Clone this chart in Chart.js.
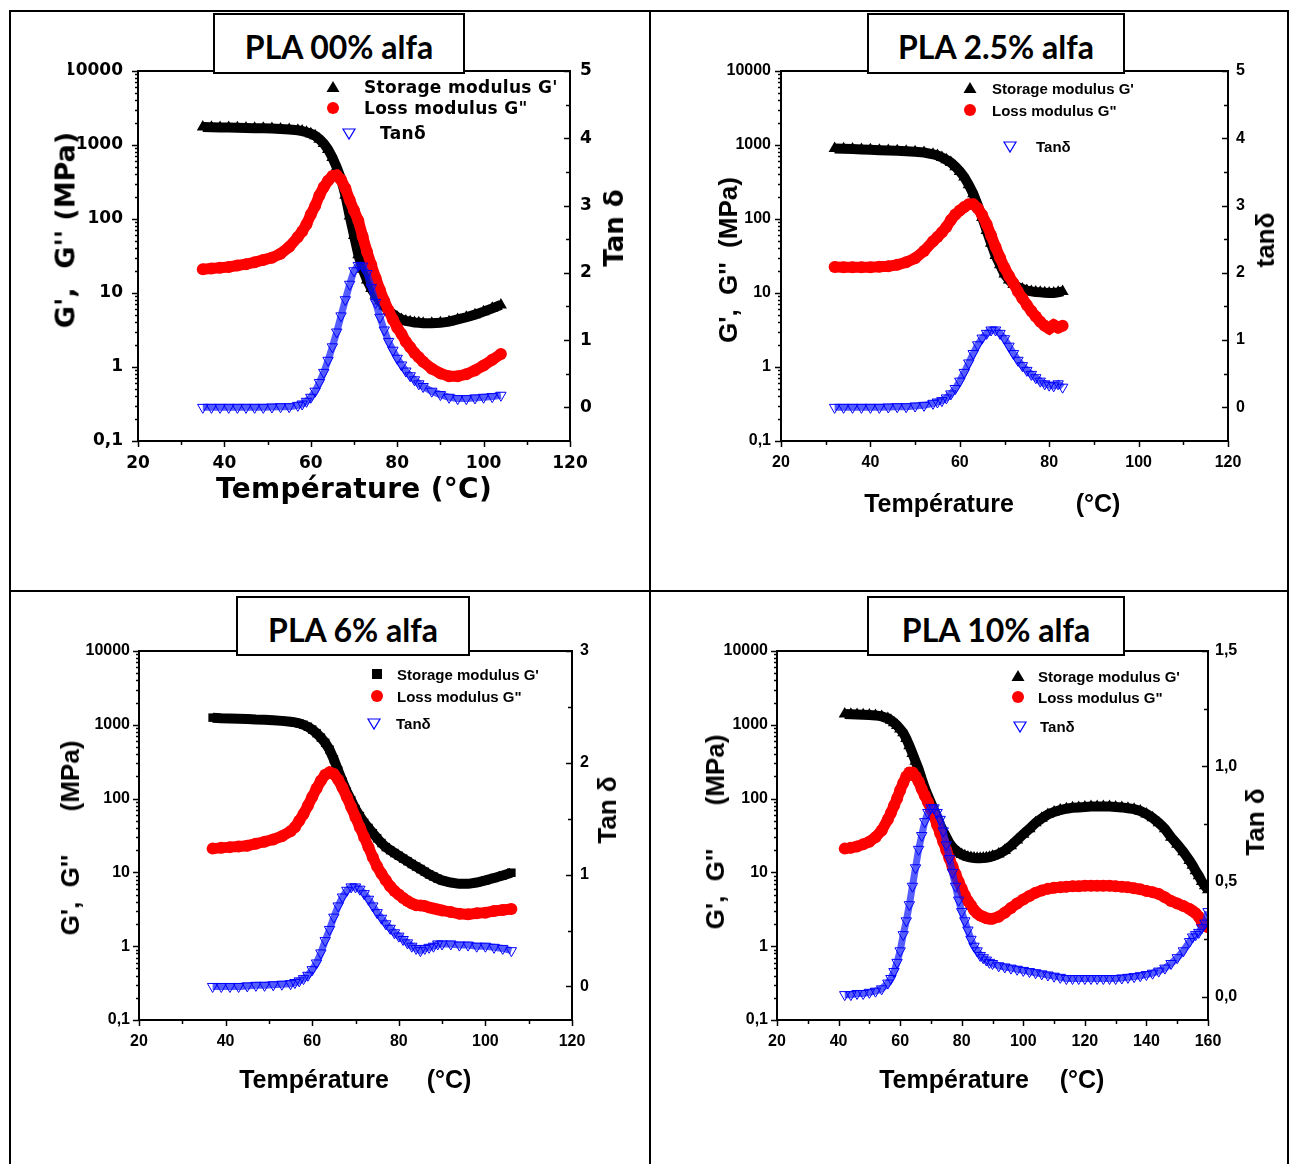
<!DOCTYPE html>
<html>
<head>
<meta charset="utf-8">
<title>DMA – PLA / alfa</title>
<script src="https://cdn.jsdelivr.net/npm/chart.js@4.4.1/dist/chart.umd.min.js"></script>
<style>
  html, body { margin: 0; padding: 0; background: #fff; }
  body { position: relative; width: 1289px; height: 1164px; overflow: hidden; }
  canvas { position: absolute; }
  .line { position: absolute; background: #000; }
  .t { position: absolute; white-space: pre; line-height: 1; color: #000; font-weight: bold; }
  .box { position: absolute; border: 2px solid #000; background: #fff; box-sizing: border-box;
         display: flex; align-items: center; justify-content: center;
         font-family: Lato, 'Open Sans', sans-serif; font-weight: bold; font-size: 32px; padding-top: 6px; }
  .mk { position: absolute; }
</style>
</head>
<body>
<div class="line" style="left:9px;top:10px;width:1280px;height:2px"></div>
<div class="line" style="left:9px;top:10px;width:2px;height:1154px"></div>
<div class="line" style="left:1287px;top:10px;width:2px;height:1154px"></div>
<div class="line" style="left:649px;top:10px;width:2px;height:1154px"></div>
<div class="line" style="left:9px;top:590px;width:1280px;height:2px"></div>

<canvas id="c1"></canvas>
<canvas id="c2"></canvas>
<canvas id="c3"></canvas>
<canvas id="c4"></canvas>

<script>
// ---- Data: temperature (°C), storage modulus G' (MPa), loss modulus G'' (MPa), tan delta ----

// PLA 00% alfa
const temps1 = [35,37,39,41,43,45,47,49,51,53,55,57,58,59,60,61,62,63,64,65,66,67,68,69,70,71,72,73,74,75,76,77,78,79,80,81,82,83,84,85,86,88,90,92,94,96,98,100,102,104];
const storage1 = [1750,1740,1730,1720,1710,1700,1690,1680,1670,1650,1620,1580,1540,1490,1420,1330,1200,1050,870,680,500,350,210,110,60,33,21,15,11.5,9.3,7.8,6.6,5.8,5.2,4.7,4.4,4.2,4.1,4.0,3.95,3.9,3.9,3.95,4.1,4.4,4.7,5.1,5.6,6.2,6.9];
const loss1 = [21,21.5,22,22.5,23.5,24.5,26,28,30,34,42,57,68,85,115,150,210,270,330,380,390,340,260,180,130,95,58,36,24,16,11,7.8,5.8,4.4,3.4,2.8,2.2,1.85,1.55,1.35,1.18,0.95,0.82,0.75,0.75,0.8,0.9,1.05,1.25,1.5];
const tan1 = [0,0,0,0,0,0,0,0,0.005,0.01,0.01,0.03,0.05,0.09,0.15,0.24,0.37,0.52,0.70,0.90,1.12,1.36,1.60,1.83,2.03,2.11,2.10,1.99,1.78,1.56,1.34,1.15,0.98,0.85,0.73,0.63,0.54,0.47,0.41,0.35,0.31,0.24,0.19,0.15,0.13,0.13,0.14,0.15,0.16,0.18];

// PLA 2.5% alfa
const temps2 = [32,34,36,38,40,42,44,46,48,50,52,54,55,56,57,58,59,60,61,62,63,64,65,66,67,68,69,70,71,72,73,74,75,76,77,78,79,80,81,82,83];
const storage2 = [900,890,880,870,860,850,845,835,825,810,790,750,720,680,630,580,510,440,370,290,220,155,105,70,47,32,24,18,15,13,12,11.3,10.8,10.5,10.3,10.2,10.1,10,10,10.2,10.5];
const loss2 = [22.5,22.3,22.2,22.2,22.3,22.6,23,24,26,29.5,37,50,57,66,78,97,115,130,145,158,158,140,113,85,60,42,30,22,17,13.5,10.5,8.5,6.9,5.7,4.8,4.1,3.6,3.3,3.7,3.4,3.6];
const tan2 = [0,0,0,0,0,0,0.005,0.01,0.01,0.02,0.03,0.06,0.08,0.1,0.14,0.2,0.28,0.39,0.52,0.66,0.8,0.93,1.03,1.1,1.15,1.15,1.1,1.02,0.91,0.8,0.7,0.62,0.55,0.49,0.44,0.39,0.35,0.33,0.32,0.35,0.3];

// PLA 6% alfa
const temps3 = [37,39,41,43,45,47,49,51,53,55,56,57,58,59,60,61,62,63,64,65,66,67,68,69,70,71,72,73,74,75,76,77,78,79,80,81,82,83,84,85,86,87,88,89,90,92,94,96,98,100,102,104,106];
const storage3 = [1250,1230,1220,1210,1200,1180,1170,1150,1130,1100,1080,1050,1000,940,860,770,670,570,460,340,240,170,124,95,72,58,47,40,34,29,25,22,20,18.3,16.8,15.4,14.2,13,12,11.1,10.2,9.4,8.8,8.2,7.8,7.3,7.0,7.0,7.3,7.8,8.4,9.1,9.9];
const loss3 = [21,21.5,22,22.5,23,24.5,26,28,31,36,41,50,62,80,105,137,175,210,228,215,180,140,105,77,56,41,30,22,16,12,9.6,7.8,6.5,5.6,5.0,4.5,4.1,3.8,3.6,3.55,3.5,3.35,3.25,3.15,3.05,2.9,2.75,2.7,2.8,2.85,3.0,3.1,3.2];
const tan3 = [0,0,0,0,0.005,0.01,0.01,0.015,0.02,0.025,0.035,0.05,0.07,0.1,0.15,0.21,0.3,0.41,0.51,0.62,0.72,0.8,0.86,0.89,0.89,0.87,0.83,0.78,0.72,0.66,0.61,0.56,0.52,0.48,0.45,0.42,0.39,0.36,0.34,0.32,0.34,0.35,0.36,0.38,0.38,0.38,0.37,0.37,0.36,0.36,0.35,0.34,0.32];

// PLA 10% alfa
const temps4 = [42,44,46,48,50,52,54,56,57,58,59,60,61,62,63,64,65,66,67,68,69,70,71,72,73,74,75,76,77,78,79,80,81,82,83,84,85,86,87,88,89,90,92,94,96,98,100,102,104,106,108,110,112,114,116,118,120,122,124,126,128,130,132,134,136,138,140,142,144,146,148,150,152,154,155,156,157,158,159,160];
const storage4 = [1400,1390,1380,1370,1360,1340,1300,1220,1150,1070,980,880,780,650,520,410,320,250,185,140,110,88,70,56,44,36,30,25,22,20,18.5,17.5,16.8,16.2,15.9,15.7,15.6,15.6,15.7,15.8,16.1,16.6,17.8,19.8,23,27.5,33,39,47,54,61,66,70,73,75,76,77,78,78,78,78,77,76,74,72,68,62,55,47,39,30,24,19,14.5,12.5,10.5,9,7.5,6.6,5.8];
const loss4 = [21,21.5,22.5,24,26,30,37,52,64,80,100,130,163,200,225,225,200,170,135,110,90,72,58,44,34,26,20,15.5,12,9.5,7.5,6,4.9,4.1,3.6,3.1,2.8,2.6,2.5,2.4,2.35,2.35,2.5,2.85,3.3,3.8,4.3,4.8,5.3,5.7,6.0,6.2,6.3,6.4,6.5,6.5,6.6,6.6,6.6,6.6,6.6,6.5,6.4,6.3,6.1,5.9,5.6,5.4,5.1,4.6,4.1,3.8,3.5,3.2,3.0,2.8,2.5,2.1,1.9,1.8];
const tan4 = [0.01,0.01,0.015,0.015,0.02,0.025,0.035,0.06,0.08,0.11,0.15,0.2,0.27,0.33,0.4,0.48,0.56,0.64,0.7,0.76,0.8,0.82,0.82,0.8,0.77,0.72,0.66,0.6,0.54,0.48,0.42,0.37,0.33,0.29,0.25,0.22,0.2,0.18,0.17,0.16,0.15,0.145,0.135,0.13,0.125,0.12,0.115,0.11,0.105,0.1,0.095,0.09,0.085,0.08,0.08,0.08,0.08,0.08,0.08,0.08,0.08,0.08,0.082,0.085,0.088,0.092,0.097,0.103,0.112,0.125,0.145,0.17,0.2,0.24,0.26,0.27,0.28,0.3,0.32,0.37];

// ---- Labels and ticks ----
const seriesNames = ["Storage modulus G'", 'Loss modulus G"', 'Tanδ'];
const panelTitles = ['PLA 00% alfa', 'PLA 2.5% alfa', 'PLA 6% alfa', 'PLA 10% alfa'];
const xTitle = 'Température';
const xUnit = '(°C)';
const modulusTicks = [0.1, 1, 10, 100, 1000, 10000];
const modulusTickLabels = ['0,1', '1', '10', '100', '1000', '10000'];
const tempTicks120 = [20, 40, 60, 80, 100, 120];
const tempTicks160 = [20, 40, 60, 80, 100, 120, 140, 160];
const tanTicks5 = [0, 1, 2, 3, 4, 5];
const tanTickLabels5 = ['0', '1', '2', '3', '4', '5'];
const tanTicks3 = [0, 1, 2, 3];
const tanTickLabels3 = ['0', '1', '2', '3'];
const tanTicks15 = [0, 0.5, 1, 1.5];
const tanTickLabels15 = ['0,0', '0,5', '1,0', '1,5'];

const WIDE = "'DejaVu Sans', Verdana, sans-serif";
const ARIAL = "'Liberation Sans', Arial, Helvetica, sans-serif";

const panels = [
  { id: 'c1', title: panelTitles[0], temps: temps1, gp: storage1, gpp: loss1, tan: tan1, gpStyle: 'triangle',
    cell: {x: 0, y: 0, w: 650, h: 591}, plot: {l: 138, t: 71, r: 570, b: 441},
    xMax: 120, xTicks: tempTicks120, tanMin: -0.5, tanMax: 5, tanTicks: tanTicks5, tanLabels: tanTickLabels5,
    font: WIDE, tickSize: 17, yPad: 15, y2Pad: 10, xPad: 12,
    box: {l: 213, t: 13, w: 252, h: 61},
    xTitleFull: xTitle + ' ' + xUnit, xTitlePos: [354, 489], xTitleSize: 28,
    yTitle: "G',  G'' (MPa)", yTitlePos: [65, 230], yTitleSize: 27,
    y2Title: 'Tan δ', y2TitlePos: [614, 228], y2TitleSize: 26,
    legend: [[333, 87, 364], [333, 108, 364], [349, 133, 380]], legendSize: 17 },
  { id: 'c2', title: panelTitles[1], temps: temps2, gp: storage2, gpp: loss2, tan: tan2, gpStyle: 'triangle',
    cell: {x: 650, y: 0, w: 639, h: 591}, plot: {l: 781, t: 71, r: 1228, b: 441},
    xMax: 120, xTicks: tempTicks120, tanMin: -0.5, tanMax: 5, tanTicks: tanTicks5, tanLabels: tanTickLabels5,
    font: ARIAL, tickSize: 16, yPad: 10, y2Pad: 8, xPad: 12,
    box: {l: 867, t: 13, w: 258, h: 61},
    xTitlePos: [939, 503], xUnitPos: [1098, 503], xTitleSize: 25,
    yTitle: "G',  G''  (MPa)", yTitlePos: [728, 260], yTitleSize: 26,
    y2Title: 'tanδ', y2TitlePos: [1265, 240], y2TitleSize: 26,
    legend: [[970, 88, 992], [970, 110, 992], [1010, 146, 1036]], legendSize: 15 },
  { id: 'c3', title: panelTitles[2], temps: temps3, gp: storage3, gpp: loss3, tan: tan3, gpStyle: 'rect',
    cell: {x: 0, y: 591, w: 650, h: 573}, plot: {l: 139, t: 651, r: 572, b: 1020},
    xMax: 120, xTicks: tempTicks120, tanMin: -0.3, tanMax: 3, tanTicks: tanTicks3, tanLabels: tanTickLabels3,
    font: ARIAL, tickSize: 16, yPad: 9, y2Pad: 8, xPad: 12,
    box: {l: 236, t: 596, w: 234, h: 60},
    xTitlePos: [314, 1079], xUnitPos: [449, 1079], xTitleSize: 25,
    yTitle: "G',  G''      (MPa)", yTitlePos: [70, 838], yTitleSize: 26,
    y2Title: 'Tan δ', y2TitlePos: [607, 810], y2TitleSize: 26,
    legend: [[377, 674, 397], [377, 696, 397], [374, 723, 396]], legendSize: 15 },
  { id: 'c4', title: panelTitles[3], temps: temps4, gp: storage4, gpp: loss4, tan: tan4, gpStyle: 'triangle',
    cell: {x: 650, y: 591, w: 639, h: 573}, plot: {l: 777, t: 651, r: 1208, b: 1020},
    xMax: 160, xTicks: tempTicks160, tanMin: -0.1, tanMax: 1.5, tanTicks: tanTicks15, tanLabels: tanTickLabels15,
    font: ARIAL, tickSize: 16, yPad: 9, y2Pad: 7, xPad: 12,
    box: {l: 867, t: 596, w: 258, h: 60},
    xTitlePos: [954, 1079], xUnitPos: [1082, 1079], xTitleSize: 25,
    yTitle: "G',  G''      (MPa)", yTitlePos: [715, 832], yTitleSize: 26,
    y2Title: 'Tan δ', y2TitlePos: [1255, 822], y2TitleSize: 26,
    legend: [[1018, 676, 1038], [1018, 697, 1038], [1020, 726, 1040]], legendSize: 15 }
];

const pts = (xs, ys) => xs.map((x, i) => ({x: x, y: ys[i]}));

// Closed plot frame plus outward/inward tick marks, placed through the chart's scales
const frameTicks = {
  id: 'frameTicks',
  afterDraw(chart, args, o) {
    const {ctx, chartArea: a, scales} = chart;
    const seg = (x1, y1, x2, y2) => { ctx.beginPath(); ctx.moveTo(x1, y1); ctx.lineTo(x2, y2); ctx.stroke(); };
    ctx.save();
    ctx.strokeStyle = '#000';
    ctx.lineWidth = 1.5;
    // x axis: majors every 20, minors half way
    const xs = o.xTicks;
    xs.forEach((v, i) => {
      const x = Math.round(scales.x.getPixelForValue(v)) + 0.5;
      seg(x, a.bottom, x, a.bottom + 6);
      if (i < xs.length - 1) {
        const xm = Math.round(scales.x.getPixelForValue((v + xs[i + 1]) / 2)) + 0.5;
        seg(xm, a.bottom, xm, a.bottom + 4);
      }
    });
    // left log axis: decades and 2..9 minors, pointing out
    o.logTicks.forEach((d, i) => {
      const y = Math.round(scales.y.getPixelForValue(d)) + 0.5;
      seg(a.left - 6, y, a.left, y);
      if (i < o.logTicks.length - 1) {
        for (let k = 2; k <= 9; k++) {
          const ym = Math.round(scales.y.getPixelForValue(d * k)) + 0.5;
          seg(a.left - 3, ym, a.left, ym);
        }
      }
    });
    // right tan axis: ticks pointing into the plot
    const ts = o.tanTicks;
    ts.forEach((v, i) => {
      const y = Math.round(scales.y2.getPixelForValue(v)) + 0.5;
      seg(a.right - 6, y, a.right, y);
      if (i < ts.length - 1) {
        const ym = Math.round(scales.y2.getPixelForValue((v + ts[i + 1]) / 2)) + 0.5;
        seg(a.right - 4, ym, a.right, ym);
      }
    });
    ctx.lineWidth = 2;
    ctx.strokeRect(a.left, a.top, a.right - a.left, a.bottom - a.top);
    ctx.restore();
  }
};

function makeChart(p) {
  const cv = document.getElementById(p.id);
  cv.width = p.cell.w; cv.height = p.cell.h;
  cv.style.left = p.cell.x + 'px'; cv.style.top = p.cell.y + 'px';
  cv.style.width = p.cell.w + 'px'; cv.style.height = p.cell.h + 'px';
  const AXL = 70, AXR = 50, AXB = 40;
  const padding = {
    left: p.plot.l - p.cell.x - AXL,
    right: p.cell.x + p.cell.w - p.plot.r - AXR,
    top: p.plot.t - p.cell.y,
    bottom: p.cell.y + p.cell.h - p.plot.b - AXB
  };
  const font = {family: p.font, size: p.tickSize, weight: 'bold'};
  const hidden = {display: false, drawTicks: false};
  new Chart(cv, {
    type: 'scatter',
    data: {
      datasets: [
        { label: seriesNames[2], data: pts(p.temps, p.tan), yAxisID: 'y2',
          showLine: true, borderColor: 'rgba(20,30,255,0.72)', borderWidth: 7,
          pointStyle: 'triangle', pointRotation: 180, pointRadius: 6,
          pointBackgroundColor: 'rgba(255,255,255,0)', pointBorderColor: '#0000ff', pointBorderWidth: 1 },
        { label: seriesNames[1], data: pts(p.temps, p.gpp), yAxisID: 'y',
          showLine: true, borderColor: '#ff0000', borderWidth: 11,
          pointStyle: 'circle', pointRadius: 6,
          pointBackgroundColor: '#ff0000', pointBorderColor: '#ff0000', pointBorderWidth: 0 },
        { label: seriesNames[0], data: pts(p.temps, p.gp), yAxisID: 'y',
          showLine: true, borderColor: '#000', borderWidth: 10,
          pointStyle: p.gpStyle, pointRadius: p.gpStyle === 'rect' ? 6 : 7,
          pointBackgroundColor: '#000', pointBorderColor: '#000', pointBorderWidth: 0 }
      ]
    },
    options: {
      responsive: false, animation: false, events: [],
      layout: {padding: padding},
      plugins: {legend: {display: false}, tooltip: {enabled: false},
                frameTicks: {xTicks: p.xTicks, logTicks: modulusTicks, tanTicks: p.tanTicks}},
      scales: {
        x: { type: 'linear', position: 'bottom', min: 20, max: p.xMax,
             afterBuildTicks: s => { s.ticks = p.xTicks.map(v => ({value: v})); },
             afterFit: s => { s.height = AXB; },
             ticks: {font: font, color: '#000', padding: p.xPad, autoSkip: false, maxRotation: 0,
                     callback: v => String(v)},
             grid: hidden, border: {display: false} },
        y: { type: 'logarithmic', position: 'left', min: 0.1, max: 10000,
             afterBuildTicks: s => { s.ticks = modulusTicks.map(v => ({value: v})); },
             afterFit: s => { s.width = AXL; },
             ticks: {font: font, color: '#000', padding: p.yPad, autoSkip: false,
                     callback: (v, i) => modulusTickLabels[i]},
             grid: hidden, border: {display: false} },
        y2: { type: 'linear', position: 'right', min: p.tanMin, max: p.tanMax,
              afterBuildTicks: s => { s.ticks = p.tanTicks.map(v => ({value: v})); },
              afterFit: s => { s.width = AXR; },
              ticks: {font: font, color: '#000', padding: p.y2Pad, autoSkip: false,
                      callback: (v, i) => p.tanLabels[i]},
              grid: hidden, border: {display: false} }
      }
    },
    plugins: [frameTicks]
  });
}

function addText(txt, x, y, family, size, opts) {
  const d = document.createElement('div');
  d.className = 't';
  d.textContent = txt;
  d.style.left = x + 'px';
  d.style.top = y + 'px';
  d.style.fontFamily = family;
  d.style.fontSize = size + 'px';
  if (opts && opts.spacing) d.style.letterSpacing = opts.spacing + 'px';
  let tf = opts && opts.left ? 'translate(0,-50%)' : 'translate(-50%,-50%)';
  if (opts && opts.rotate) tf += ' rotate(-90deg)';
  d.style.transform = tf;
  document.body.appendChild(d);
}

function addMarker(kind, x, y) {
  const ns = 'http://www.w3.org/2000/svg';
  const s = document.createElementNS(ns, 'svg');
  s.setAttribute('width', 16); s.setAttribute('height', 16);
  s.setAttribute('class', 'mk');
  s.style.left = (x - 8) + 'px'; s.style.top = (y - 8) + 'px';
  let el;
  if (kind === 'circle') {
    el = document.createElementNS(ns, 'circle');
    el.setAttribute('cx', 8); el.setAttribute('cy', 8); el.setAttribute('r', 6);
    el.setAttribute('fill', '#ff0000');
  } else if (kind === 'rect') {
    el = document.createElementNS(ns, 'rect');
    el.setAttribute('x', 3); el.setAttribute('y', 3); el.setAttribute('width', 10); el.setAttribute('height', 10);
    el.setAttribute('fill', '#000');
  } else if (kind === 'triangle') {
    el = document.createElementNS(ns, 'polygon');
    el.setAttribute('points', '8,2 14.5,13 1.5,13');
    el.setAttribute('fill', '#000');
  } else {
    el = document.createElementNS(ns, 'polygon');
    el.setAttribute('points', '2,4 14,4 8,14');
    el.setAttribute('fill', 'none');
    el.setAttribute('stroke', '#0000ff');
    el.setAttribute('stroke-width', '1.2');
  }
  s.appendChild(el);
  document.body.appendChild(s);
}

panels.forEach(p => {
  makeChart(p);
  // title box
  const b = document.createElement('div');
  b.className = 'box';
  b.textContent = p.title;
  b.style.left = p.box.l + 'px'; b.style.top = p.box.t + 'px';
  b.style.width = p.box.w + 'px'; b.style.height = p.box.h + 'px';
  document.body.appendChild(b);
  // axis titles
  if (p.xTitleFull) {
    addText(p.xTitleFull, p.xTitlePos[0], p.xTitlePos[1], p.font, p.xTitleSize, {spacing: 0.3});
  } else {
    addText(xTitle, p.xTitlePos[0], p.xTitlePos[1], p.font, p.xTitleSize);
    addText(xUnit, p.xUnitPos[0], p.xUnitPos[1], p.font, p.xTitleSize);
  }
  addText(p.yTitle, p.yTitlePos[0], p.yTitlePos[1], p.font, p.yTitleSize, {rotate: true});
  addText(p.y2Title, p.y2TitlePos[0], p.y2TitlePos[1], p.font, p.y2TitleSize, {rotate: true});
  // legend
  const kinds = [p.gpStyle, 'circle', 'down'];
  p.legend.forEach((L, i) => {
    addMarker(kinds[i], L[0], L[1]);
    addText(seriesNames[i], L[2], L[1], p.font, p.legendSize, {left: true, spacing: p.font === WIDE ? 0.3 : 0});
  });
});
</script>
</body>
</html>
